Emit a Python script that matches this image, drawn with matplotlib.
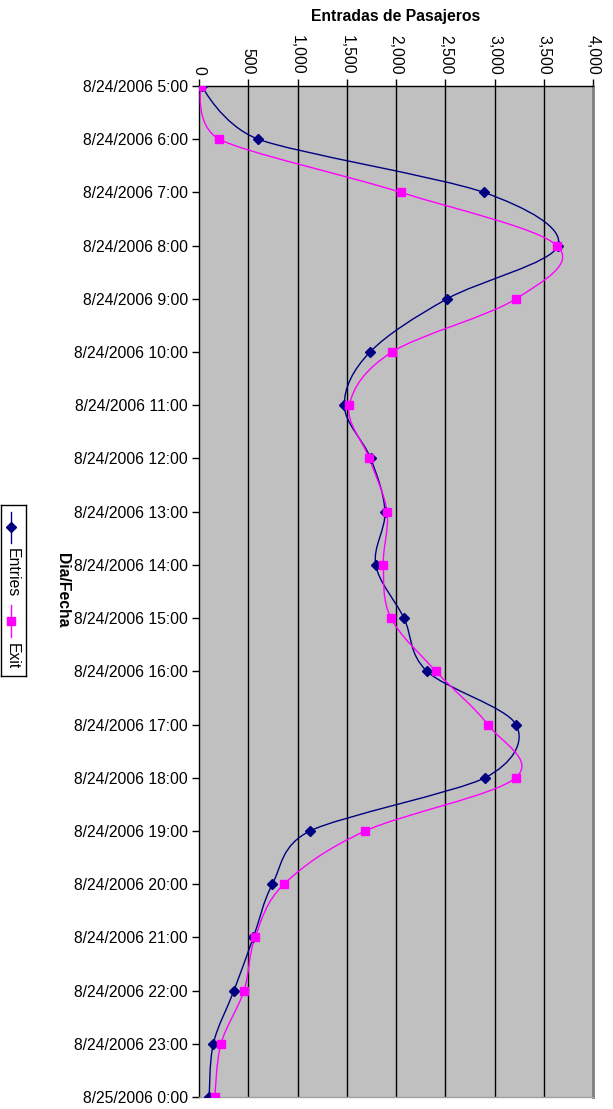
import numpy as np
import matplotlib
matplotlib.use('Agg')
import matplotlib.pyplot as plt
from matplotlib.path import Path
from matplotlib.patches import PathPatch

# Hourly passenger counts, 8/24/2006 5:00 through 8/25/2006 0:00
HOURS = ['8/24/2006 5:00', '8/24/2006 6:00', '8/24/2006 7:00', '8/24/2006 8:00',
         '8/24/2006 9:00', '8/24/2006 10:00', '8/24/2006 11:00', '8/24/2006 12:00',
         '8/24/2006 13:00', '8/24/2006 14:00', '8/24/2006 15:00', '8/24/2006 16:00',
         '8/24/2006 17:00', '8/24/2006 18:00', '8/24/2006 19:00', '8/24/2006 20:00',
         '8/24/2006 21:00', '8/24/2006 22:00', '8/24/2006 23:00', '8/25/2006 0:00']
ENTRIES = [30, 602, 2893, 3645, 2518, 1736, 1475, 1743, 1888, 1794,
           2081, 2315, 3218, 2904, 1127, 745, 552, 355, 145, 105]
EXITS = [20, 206, 2051, 3634, 3218, 1959, 1526, 1729, 1909, 1871,
         1949, 2406, 2931, 3215, 1688, 863, 569, 457, 223, 162]
XTICKS = [0, 500, 1000, 1500, 2000, 2500, 3000, 3500, 4000]

NAVY = '#000080'
MAGENTA = '#FF00FF'
PLOT_BG = '#C0C0C0'
FONT = 'Liberation Sans'
FS = 11.3

plt.rcParams['font.family'] = FONT

W, H = 613, 1109
fig = plt.figure(figsize=(W / 100, H / 100), dpi=100)
fig.patch.set_facecolor('white')

# plot area in pixel terms: left 199, right 593, top 86, bottom 1097
ax = fig.add_axes([199 / W, 1 - 1097 / H, 394 / W, 1011 / H])
ax.set_facecolor(PLOT_BG)
ax.set_xlim(0, 4000)
ax.set_ylim(len(HOURS) - 1, 0)


def smooth_path(xs, ys, ax):
    """Bezier path through the points, spreadsheet-style smoothed line.

    Control points use 1/6 of the neighbour chord, shortened to half the
    shorter adjacent segment (measured on screen) to avoid loops."""
    pts = np.column_stack([xs, ys]).astype(float)
    scr = ax.transData.transform(pts)
    n = len(pts)

    def ctrl(i):
        a = max(i - 1, 0)
        b = min(i + 1, n - 1)
        d02 = np.hypot(*(scr[b] - scr[a]))
        d01 = np.hypot(*(scr[i] - scr[a]))
        d12 = np.hypot(*(scr[b] - scr[i]))
        f = 1 / 6
        if d02 > 0 and (d02 / 6 >= d01 / 2 or d02 / 6 >= d12 / 2):
            f = min(d01, d12) / (2 * d02)
        return f * (pts[b] - pts[a])

    tans = [ctrl(i) for i in range(n)]
    verts = [pts[0]]
    codes = [Path.MOVETO]
    for i in range(n - 1):
        verts += [pts[i] + tans[i], pts[i + 1] - tans[i + 1], pts[i + 1]]
        codes += [Path.CURVE4] * 3
    return Path(verts, codes)


idx = np.arange(len(HOURS))

for vals, color, marker, ms in [(ENTRIES, NAVY, 'D', 5.0), (EXITS, MAGENTA, 's', 5.5)]:
    ax.add_patch(PathPatch(smooth_path(vals, idx, ax), facecolor='none',
                           edgecolor=color, lw=1.0, zorder=3))
    ax.plot(vals, idx, linestyle='none', marker=marker, ms=ms,
            color=color, mec=color, zorder=4)

# vertical gridlines
for v in XTICKS[1:-1]:
    ax.axvline(v, color='black', lw=1.0, zorder=1)

ax.set_xticks(XTICKS)
ax.set_xticklabels([f'{v:,}' for v in XTICKS], rotation=-90, fontsize=FS)
ax.xaxis.tick_top()
ax.tick_params(axis='x', direction='out', length=5, width=1, pad=3, color='black')

ax.set_yticks(idx)
ax.set_yticklabels(HOURS, fontsize=FS)
ax.tick_params(axis='y', direction='out', length=5, width=1, pad=3, color='black')

for side in ['left', 'top']:
    ax.spines[side].set_color('black')
    ax.spines[side].set_linewidth(1.0)
ax.spines['right'].set_color('#808080')
ax.spines['right'].set_linewidth(2.0)
ax.spines['bottom'].set_color('#A0A0A0')
ax.spines['bottom'].set_linewidth(1.0)

# axis titles
fig.text(396 / W, 1 - 17 / H, 'Entradas de Pasajeros', ha='center', va='center',
         fontsize=FS, fontweight='bold')
fig.text(62 / W, 1 - 590 / H, 'Dia/Fecha', ha='center', va='center',
         rotation=-90, fontsize=FS, fontweight='bold')

# rotated legend, drawn in its own small axes (pixel units)
lax = fig.add_axes([0.5 / W, 1 - 676 / H, 25 / W, 171 / H])
lax.set_xlim(0, 25)
lax.set_ylim(171, 0)
lax.set_xticks([])
lax.set_yticks([])
lax.set_facecolor('white')
for s in lax.spines.values():
    s.set_color('black')
    s.set_linewidth(1.0)
lax.plot([10, 10], [7, 38], color=NAVY, lw=1.0)
lax.plot([10], [22], marker='D', ms=5.5, color=NAVY)
lax.text(12, 68, 'Entries', rotation=-90, ha='center', va='center', fontsize=FS)
lax.plot([10, 10], [100, 132], color=MAGENTA, lw=1.0)
lax.plot([10], [116], marker='s', ms=6, color=MAGENTA)
lax.text(12, 151, 'Exit', rotation=-90, ha='center', va='center', fontsize=FS)

fig.savefig('out.png', dpi=100, facecolor='white')
plt.close(fig)
